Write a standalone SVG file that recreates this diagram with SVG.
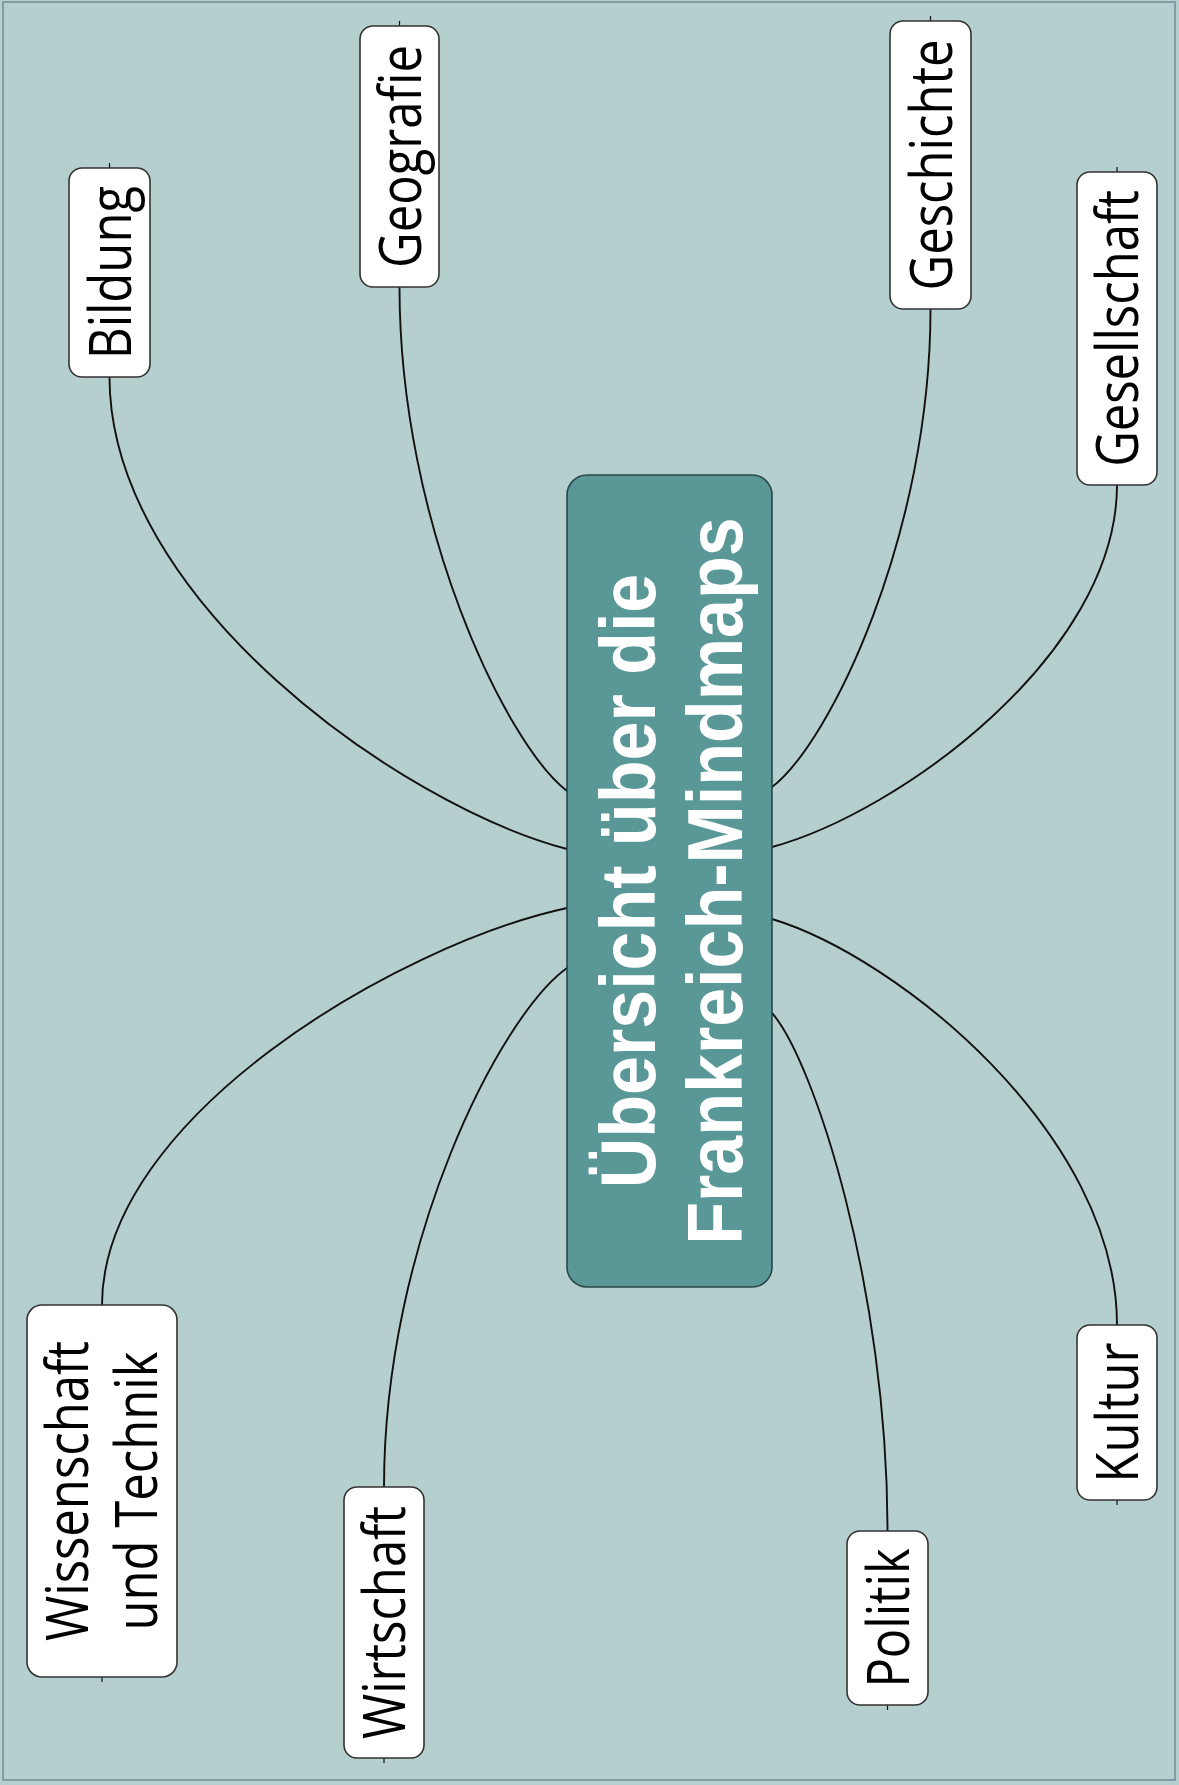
<svg xmlns="http://www.w3.org/2000/svg" width="1179" height="1785" viewBox="0 0 1179 1785">
<style>
.bg{fill:#b5cfcf}
.frame{fill:none;stroke:#7f9ea3;stroke-width:2}
.conn{fill:none;stroke:#111;stroke-width:1.9}
.stub{stroke:#111;stroke-width:1.2}
.node rect{fill:#ffffff;stroke:#333;stroke-width:1.6}
.lbl{font-family:"Open Sans","Noto Sans","DejaVu Sans",sans-serif;font-size:49px;fill:#000;text-anchor:middle}
.center rect{fill:#5a9898;stroke:#2b4747;stroke-width:1.6}
.title{font-family:"Liberation Sans",Arial,sans-serif;font-weight:bold;font-size:70px;fill:#ffffff;text-anchor:middle}
</style>
<rect class="bg" x="0" y="0" width="1179" height="1785"/>
<rect class="frame" x="3" y="2" width="1172" height="1778"/>
<g id="connectors">
<path class="conn" d="M567,849 C400,805 109.5,599 109.5,377"/>
<path class="conn" d="M567,791 C506,744 399.5,524 399.5,287"/>
<path class="conn" d="M567,908 C397,945 102,1118 102,1305"/>
<path class="conn" d="M567,968 C500,1016 384,1243 384,1487"/>
<path class="conn" d="M772,787 C830,743 930.5,534 930.5,309"/>
<path class="conn" d="M772,847 C898,813 1117,655 1117,485"/>
<path class="conn" d="M772,919 C898,957 1117,1134 1117,1325"/>
<path class="conn" d="M772,1013 C814,1061 887.5,1288 887.5,1531"/>
<line class="stub" x1="109.5" y1="163" x2="109.5" y2="168"/>
<line class="stub" x1="399.5" y1="21" x2="399.5" y2="26"/>
<line class="stub" x1="930.5" y1="16" x2="930.5" y2="21"/>
<line class="stub" x1="1117" y1="167" x2="1117" y2="172"/>
<line class="stub" x1="102" y1="1677" x2="102" y2="1682"/>
<line class="stub" x1="384" y1="1758" x2="384" y2="1763"/>
<line class="stub" x1="887.5" y1="1705" x2="887.5" y2="1710"/>
<line class="stub" x1="1117" y1="1500" x2="1117" y2="1505"/>
</g>
<g id="center" class="center">
<rect x="567" y="475" width="205" height="812" rx="20"/>
<g transform="translate(655,881) rotate(-90) scale(1,1.1)"><text class="title" x="0" y="0">Übersicht über die</text></g>
<g transform="translate(742,881) rotate(-90) scale(1,1.1)"><text class="title" x="0" y="0">Frankreich-Mindmaps</text></g>
</g>
<g id="bildung" class="node">
<rect x="69" y="168" width="81" height="209" rx="13"/>
<g transform="translate(130.5,272.5) rotate(-90) scale(1,1.2)"><text class="lbl">Bildung</text></g>
</g>
<g id="geografie" class="node">
<rect x="360" y="26" width="79" height="261" rx="13"/>
<g transform="translate(420.5,156.5) rotate(-90) scale(1,1.2)"><text class="lbl">Geografie</text></g>
</g>
<g id="geschichte" class="node">
<rect x="890" y="21" width="81" height="288" rx="13"/>
<g transform="translate(951.5,165) rotate(-90) scale(1,1.2)"><text class="lbl">Geschichte</text></g>
</g>
<g id="gesellschaft" class="node">
<rect x="1077" y="172" width="80" height="313" rx="13"/>
<g transform="translate(1138,328.5) rotate(-90) scale(1,1.2)"><text class="lbl">Gesellschaft</text></g>
</g>
<g id="wissenschaft" class="node">
<rect x="27" y="1305" width="150" height="372" rx="15"/>
<g transform="translate(88,1491) rotate(-90) scale(1,1.2)"><text class="lbl">Wissenschaft</text></g>
<g transform="translate(157,1491) rotate(-90) scale(1,1.2)"><text class="lbl">und Technik</text></g>
</g>
<g id="wirtschaft" class="node">
<rect x="344" y="1487" width="80" height="271" rx="13"/>
<g transform="translate(405,1622.5) rotate(-90) scale(1,1.2)"><text class="lbl">Wirtschaft</text></g>
</g>
<g id="politik" class="node">
<rect x="847" y="1531" width="81" height="174" rx="13"/>
<g transform="translate(908.5,1618) rotate(-90) scale(1,1.2)"><text class="lbl">Politik</text></g>
</g>
<g id="kultur" class="node">
<rect x="1077" y="1325" width="80" height="175" rx="13"/>
<g transform="translate(1138,1412.5) rotate(-90) scale(1,1.2)"><text class="lbl">Kultur</text></g>
</g>
</svg>
